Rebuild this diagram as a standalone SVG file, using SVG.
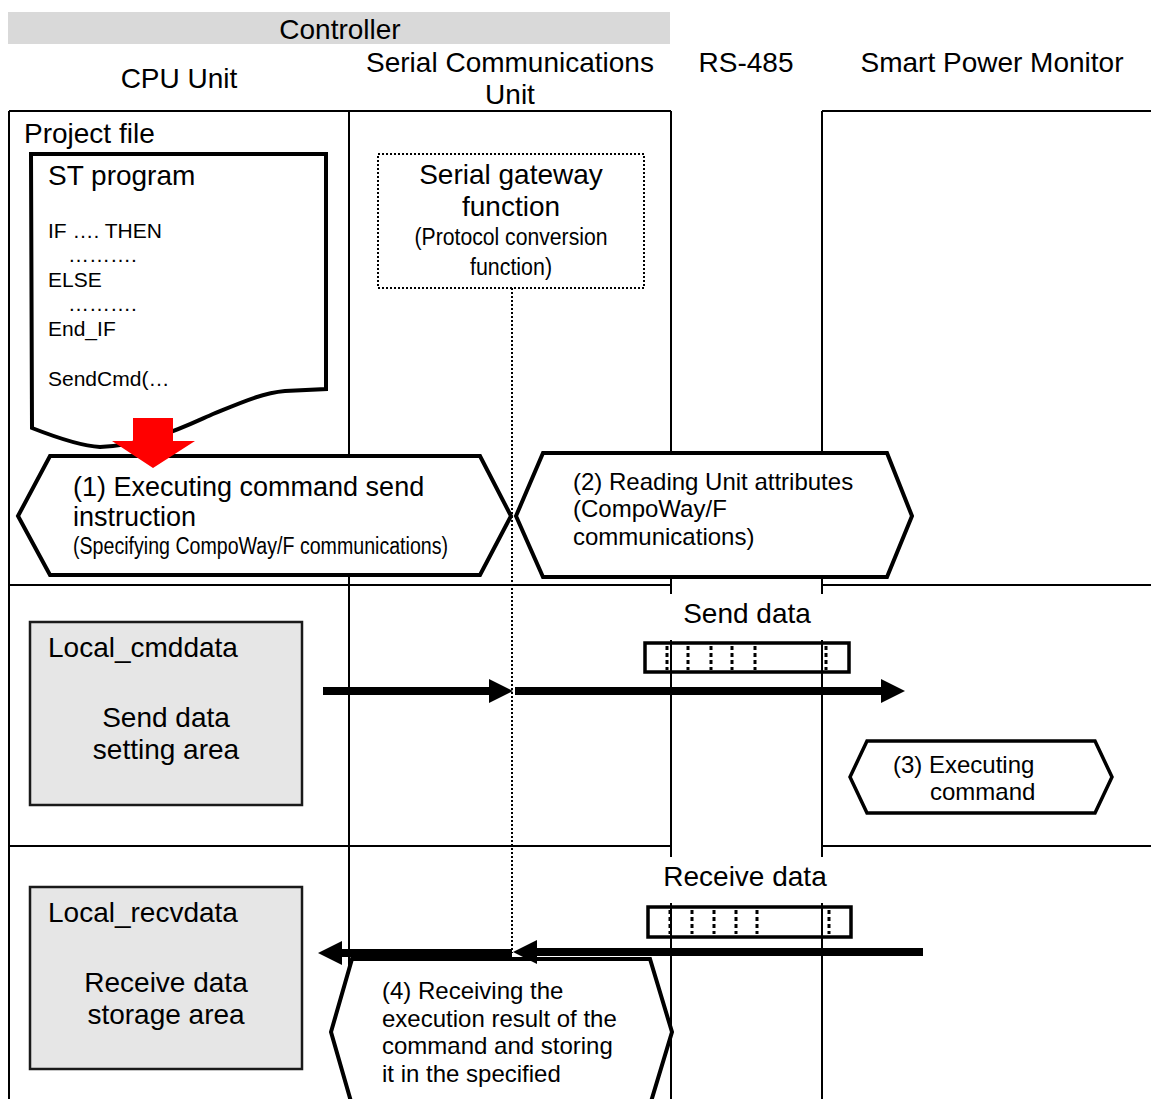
<svg xmlns="http://www.w3.org/2000/svg" width="1151" height="1099" viewBox="0 0 1151 1099">
<style>
  text { font-family: "Liberation Sans", Arial, sans-serif; fill: #000; }
  .big { font-size: 28px; }
  .hx1 { font-size: 27px; }
  .mid { font-size: 24px; }
  .code { font-size: 21px; }
  .small { font-size: 23px; }
  .mc { text-anchor: middle; }
  .grid { stroke: #000; stroke-width: 2; fill: none; }
  .hex { fill: #fff; stroke: #000; stroke-width: 4; stroke-linejoin: miter; }
  .dot { stroke: #000; stroke-width: 2; stroke-dasharray: 2 2; fill: none; }
  .area { fill: #e6e6e6; stroke: #1a1a1a; stroke-width: 2.5; }
  .frame { fill: none; stroke: #000; stroke-width: 3.5; }
  .cell { stroke: #000; stroke-width: 3; stroke-dasharray: 4 3; }
  .arrow { stroke: #000; stroke-width: 8; fill: none; marker-end: url(#head); }
</style>
<defs>
  <marker id="head" markerUnits="userSpaceOnUse" viewBox="0 0 24 24" markerWidth="24" markerHeight="24" refX="4" refY="12" orient="auto">
    <path d="M0,0 L24,12 L0,24 Z" fill="#000"/>
  </marker>
</defs>
<rect width="1151" height="1099" fill="#fff"/>

<g id="header">
  <rect x="8" y="12" width="662" height="32" fill="#d9d9d9"/>
  <text class="big mc" x="340" y="39">Controller</text>
  <text class="big mc" x="179" y="88">CPU Unit</text>
  <text class="big mc" x="510" y="72">Serial Communications</text>
  <text class="big mc" x="510" y="104">Unit</text>
  <text class="big mc" x="746" y="72">RS-485</text>
  <text class="big mc" x="992" y="72">Smart Power Monitor</text>
</g>

<g id="grid" class="grid">
  <path d="M9,111 H671 M822,111 H1151"/>
  <path d="M9,111 V1099 M349,111 V1099 M671,111 V1099 M822,111 V1099"/>
  <path d="M9,585 H671 M822,585 H1151"/>
  <path d="M9,846 H671 M822,846 H1151"/>
</g>

<g id="project-file">
  <text class="big" x="24" y="143">Project file</text>
</g>

<g id="st-program">
  <path d="M31,154 L326,154 L326,389 L285,391 C262,393 240,403 213,414 C190,424 150,445 100,447 C80,446 55,437 32,428 Z" fill="#fff" stroke="#000" stroke-width="4"/>
  <text class="big" x="48" y="185">ST program</text>
  <text class="code" x="48" y="238">IF …. THEN</text>
  <text class="code" x="68" y="262">……….</text>
  <text class="code" x="48" y="287">ELSE</text>
  <text class="code" x="68" y="311">……….</text>
  <text class="code" x="48" y="336">End_IF</text>
  <text class="code" x="48" y="386">SendCmd(…</text>
</g>

<g id="gateway">
  <rect class="dot" x="378" y="154" width="266" height="134"/>
  <text class="big mc" x="511" y="184">Serial gateway</text>
  <text class="big mc" x="511" y="216">function</text>
  <text class="small mc" x="511" y="245" textLength="193" lengthAdjust="spacingAndGlyphs">(Protocol conversion</text>
  <text class="small mc" x="511" y="275" textLength="82" lengthAdjust="spacingAndGlyphs">function)</text>
</g>

<g id="step1">
  <polygon class="hex" points="18,516 50,456 480,456 511,516 480,575 50,575"/>
  <text class="hx1" x="73" y="496">(1) Executing command send</text>
  <text class="hx1" x="73" y="526">instruction</text>
  <text class="small" x="73" y="554" textLength="375" lengthAdjust="spacingAndGlyphs">(Specifying CompoWay/F communications)</text>
</g>

<g id="step2">
  <polygon class="hex" points="516,516 543,453 887,453 912,516 887,577 543,577"/>
  <text class="mid" x="573" y="490">(2) Reading Unit attributes</text>
  <text class="mid" x="573" y="517">(CompoWay/F</text>
  <text class="mid" x="573" y="545">communications)</text>
</g>

<g id="red-arrow">
  <polygon points="133,418 173,418 173,441 195,441 153,468 112,441 133,441" fill="#ff0000"/>
</g>

<g id="send-data">
  <rect x="660" y="594" width="176" height="46" fill="#fff"/>
  <text class="big mc" x="747" y="623">Send data</text>
  <rect class="frame" x="645" y="643" width="204" height="29"/>
  <path class="cell" d="M667,646 V670 M688,646 V670 M711,646 V670 M732,646 V670 M755,646 V670 M826,646 V670"/>
</g>

<g id="local-cmddata">
  <rect class="area" x="30" y="622" width="272" height="183"/>
  <text class="big" x="48" y="657">Local_cmddata</text>
  <text class="big mc" x="166" y="727">Send data</text>
  <text class="big mc" x="166" y="759">setting area</text>
</g>

<g id="step3">
  <polygon class="hex" points="850,777 867,741 1095,741 1112,777 1095,813 867,813" style="stroke-width:3.5"/>
  <text class="mid" x="893" y="773">(3) Executing</text>
  <text class="mid" x="930" y="800">command</text>
</g>

<g id="receive-data">
  <rect x="655" y="857" width="180" height="46" fill="#fff"/>
  <text class="big mc" x="745" y="886">Receive data</text>
  <rect class="frame" x="648" y="907" width="203" height="30"/>
  <path class="cell" d="M670,910 V934 M692,910 V934 M714,910 V934 M736,910 V934 M757,910 V934 M829,910 V934"/>
</g>

<g id="local-recvdata">
  <rect class="area" x="30" y="887" width="272" height="182"/>
  <text class="big" x="48" y="922">Local_recvdata</text>
  <text class="big mc" x="166" y="992">Receive data</text>
  <text class="big mc" x="166" y="1024">storage area</text>
</g>

<g id="step4">
  <polygon class="hex" points="331,1032 352,959 650,959 672,1032 650,1105 352,1105"/>
  <text class="mid" x="382" y="999">(4) Receiving the</text>
  <text class="mid" x="382" y="1027">execution result of the</text>
  <text class="mid" x="382" y="1054">command and storing</text>
  <text class="mid" x="382" y="1082">it in the specified</text>
</g>

<g id="connectors">
  <line class="dot" x1="512" y1="288" x2="512" y2="953"/>
  <line class="arrow" x1="323" y1="691" x2="493" y2="691"/>
  <line class="arrow" x1="515" y1="691" x2="885" y2="691"/>
  <line class="arrow" x1="923" y1="952" x2="533" y2="952"/>
  <line class="arrow" x1="512" y1="953" x2="338" y2="953"/>
</g>
</svg>
